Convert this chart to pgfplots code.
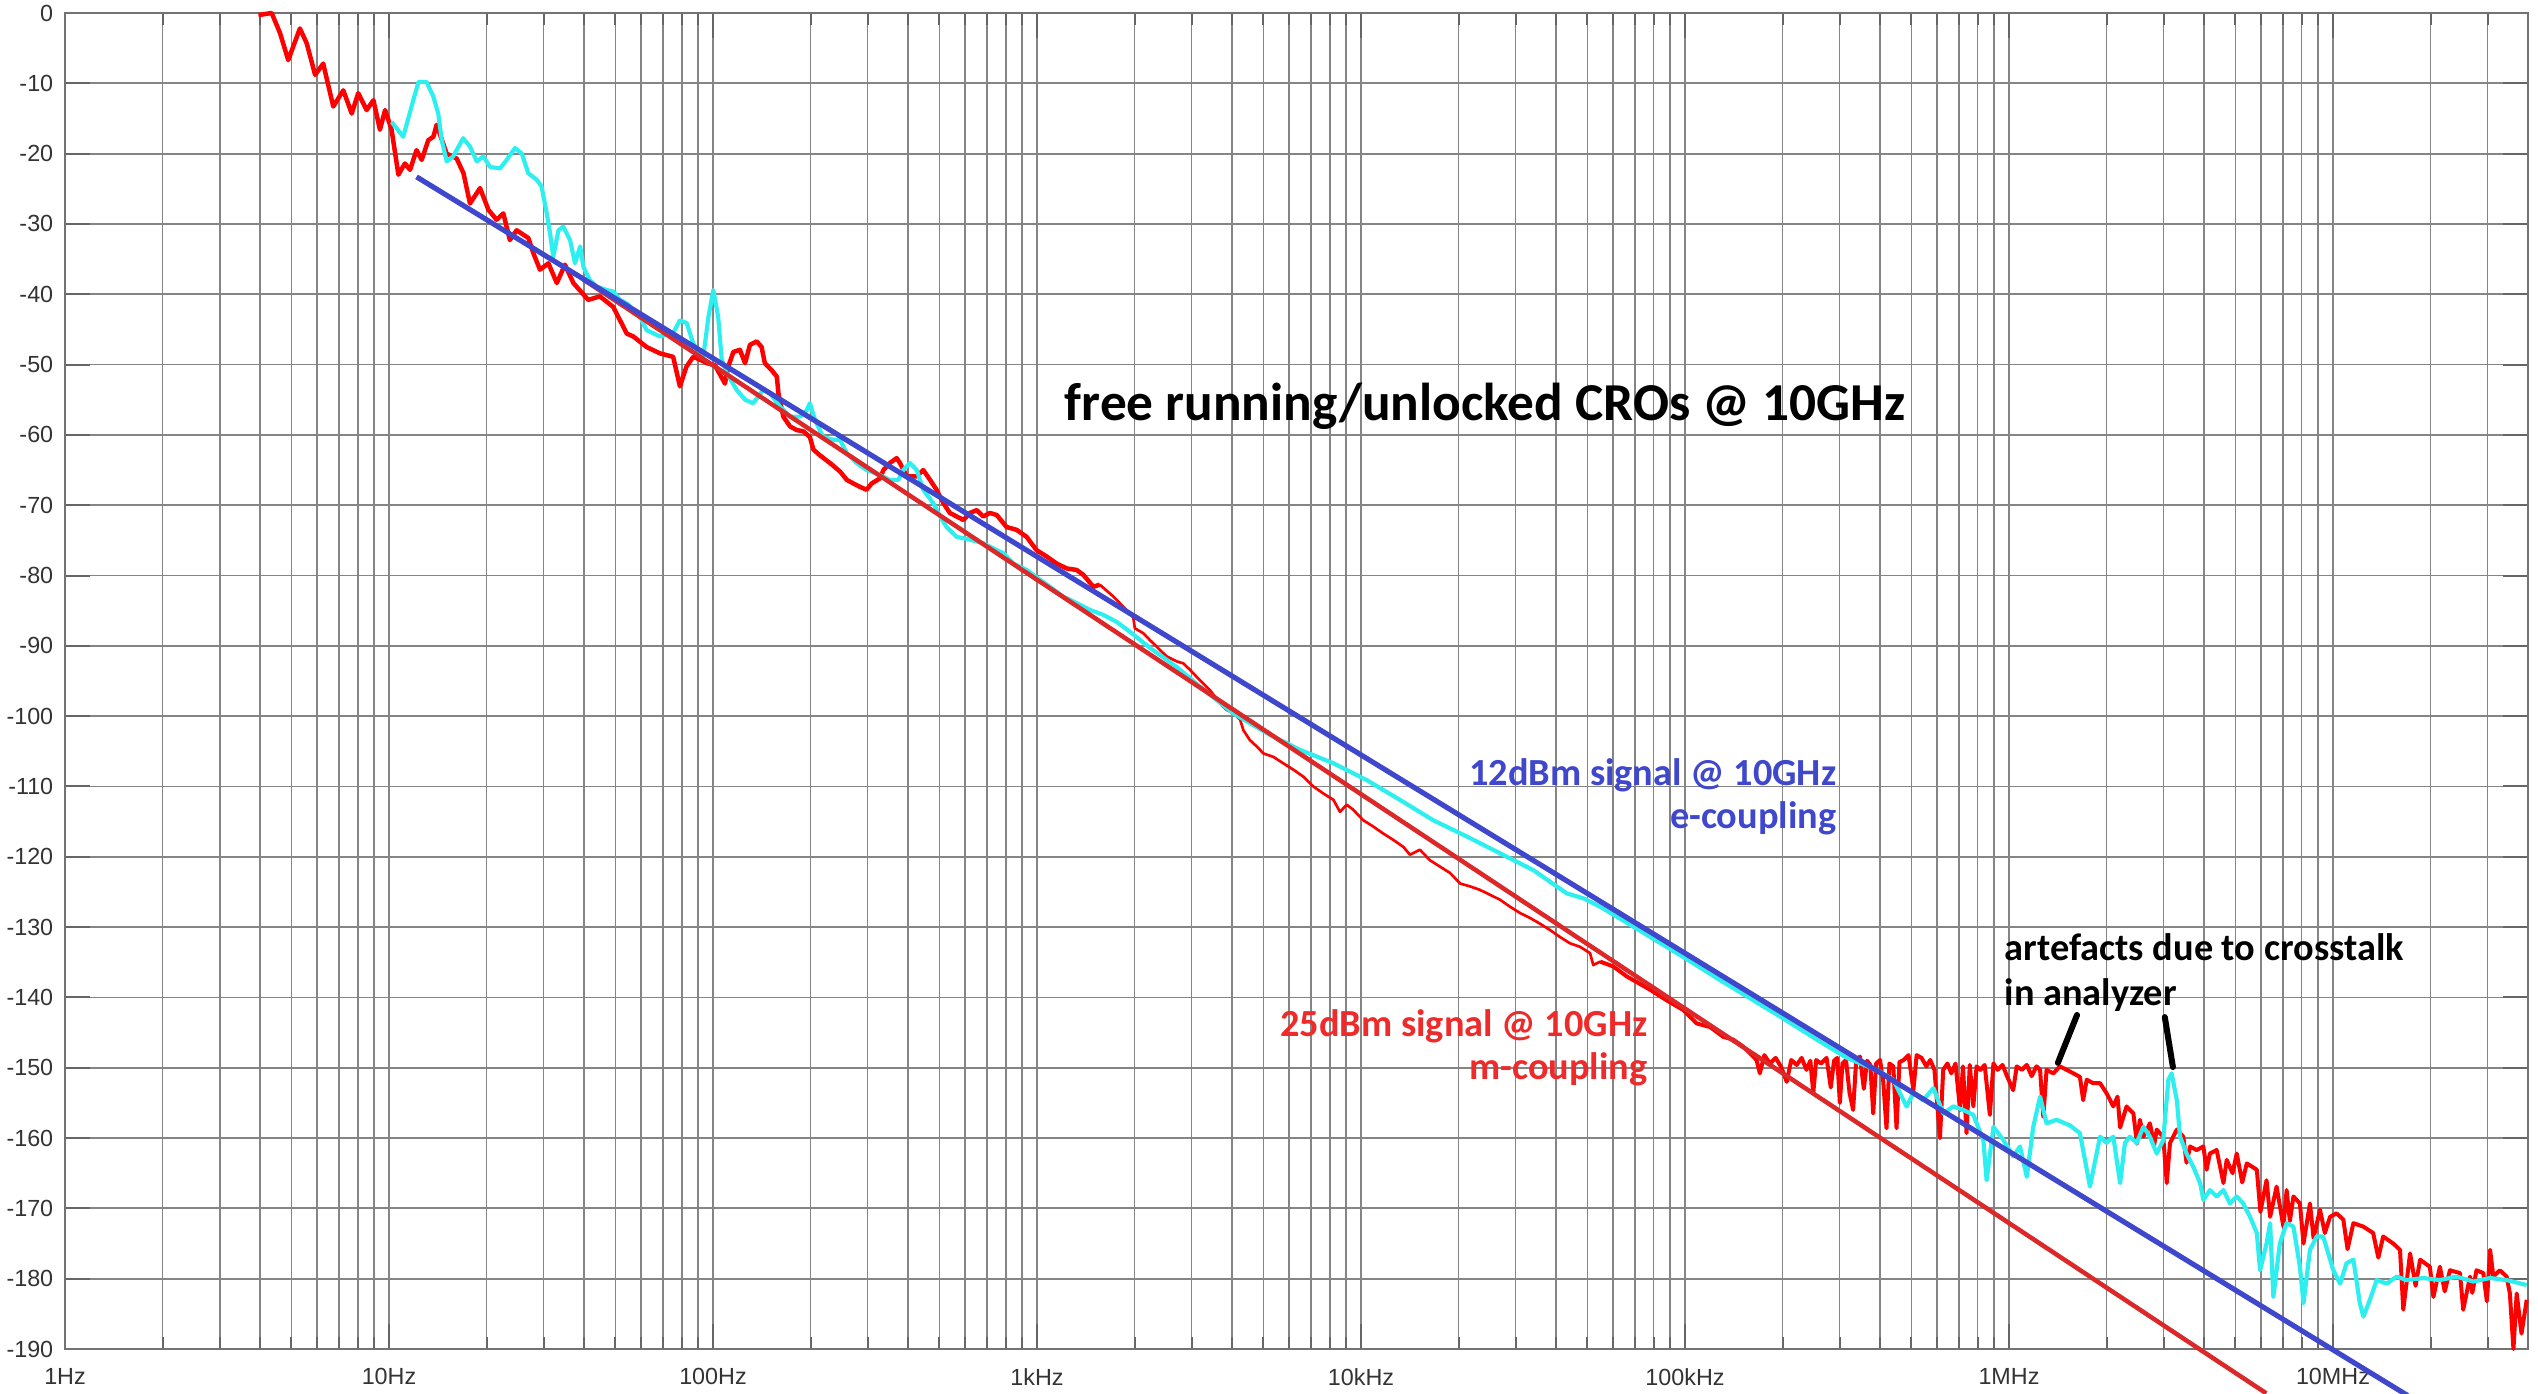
\documentclass[border=0pt]{standalone}
\usepackage{fontspec}
\setmainfont{Liberation Sans}
\newfontfamily\calibri{Carlito}
\usepackage{pgfplots}
\usepackage{pgfplotstable}
\pgfplotsset{compat=1.18}

\definecolor{noisered}{HTML}{FF0000}
\definecolor{noisecyan}{HTML}{2EEFEF}
\definecolor{fitblue}{HTML}{3F48CC}
\definecolor{fitred}{HTML}{DC2828}
\definecolor{txtred}{HTML}{EE2A2A}

% x column = log10(frequency in Hz), y = dB
\pgfplotstableread{
lf db
0.597 -0.3
0.638 0
0.664 -2.9
0.689 -6.7
0.725 -2.2
0.746 -4.3
0.772 -8.8
0.797 -7.2
0.828 -13.3
0.859 -11.0
0.885 -14.3
0.905 -11.4
0.931 -13.8
0.952 -12.4
0.972 -16.6
0.988 -13.8
1.008 -16.6
1.029 -23.0
1.049 -21.4
1.065 -22.3
1.085 -19.5
1.101 -20.9
1.121 -18.1
1.137 -17.6
1.147 -15.9
1.178 -20.0
1.209 -20.7
1.230 -22.8
1.250 -27.1
1.281 -24.9
1.307 -28.0
1.332 -29.4
1.353 -28.5
1.373 -32.3
1.394 -30.9
1.430 -32.0
1.446 -34.2
1.466 -36.5
1.492 -35.6
1.518 -38.4
1.543 -35.8
1.569 -38.4
1.615 -40.8
1.651 -40.3
1.692 -41.8
1.734 -45.6
1.754 -46.0
1.795 -47.5
1.836 -48.4
1.877 -48.9
1.898 -53.1
1.918 -50.3
1.939 -48.9
1.960 -49.3
1.981 -49.8
2.006 -50.1
2.037 -52.7
2.047 -50.3
2.063 -48.2
2.083 -47.9
2.099 -49.8
2.114 -47.2
2.135 -46.7
2.150 -47.5
2.160 -49.8
2.181 -50.8
2.197 -51.7
2.202 -54.1
2.217 -57.4
2.238 -58.8
2.258 -59.3
2.279 -59.5
2.299 -60.3
2.310 -62.1
2.330 -62.9
2.361 -64.0
2.392 -65.2
2.413 -66.4
2.433 -66.9
2.454 -67.4
2.474 -67.8
2.490 -66.9
2.515 -66.2
2.526 -65.0
2.546 -64.0
2.567 -63.3
2.577 -64.0
2.598 -65.9
2.629 -65.9
2.649 -65.0
2.670 -66.4
2.690 -67.8
2.711 -69.7
2.731 -71.1
2.752 -71.6
2.773 -72.1
2.793 -71.1
2.814 -70.7
2.834 -71.6
2.855 -71.1
2.876 -71.4
2.906 -73.1
2.937 -73.5
2.968 -74.5
2.999 -76.4
3.030 -77.3
3.061 -78.3
3.092 -79.0
3.122 -79.2
3.143 -79.9
3.174 -81.6
3.194 -81.3
}\redlow

\pgfplotstableread{
lf db
3.194 -81.3
3.236 -83.0
3.297 -85.9
3.302 -87.5
3.328 -88.2
3.349 -89.2
3.369 -90.1
3.400 -91.5
3.431 -92.2
3.452 -92.5
3.472 -93.4
3.503 -94.9
3.534 -96.3
3.565 -98.2
3.585 -99.1
3.606 -99.6
3.627 -100.5
3.637 -102.0
3.657 -103.4
3.678 -104.3
3.699 -105.3
3.730 -105.8
3.760 -106.7
3.791 -107.6
3.822 -108.6
3.853 -110.0
3.884 -111.0
3.915 -111.9
3.935 -113.6
3.956 -112.6
3.976 -113.3
4.007 -114.8
4.038 -115.7
4.069 -116.7
4.100 -117.6
4.131 -118.6
4.151 -119.7
4.182 -119.0
4.213 -120.5
4.244 -121.4
4.275 -122.3
4.306 -123.8
4.336 -124.2
4.367 -124.7
4.398 -125.4
4.429 -126.1
4.460 -127.1
4.491 -128.0
4.522 -128.7
4.552 -129.5
4.583 -130.4
4.614 -131.4
4.645 -132.3
4.676 -132.8
4.707 -133.7
4.717 -135.4
4.738 -134.9
}\redmid

\pgfplotstableread{
lf db
4.738 -134.9
4.779 -135.6
4.820 -137.0
4.892 -138.9
4.943 -140.4
4.995 -141.8
5.036 -143.7
5.077 -144.2
5.118 -145.6
5.149 -146.0
5.180 -147.0
5.221 -148.9
5.231 -150.8
5.245 -148.2
5.262 -149.4
5.280 -148.6
5.297 -149.9
5.314 -152.0
5.328 -148.9
5.345 -149.6
5.360 -148.6
5.375 -150.3
5.387 -149.0
5.396 -153.6
5.405 -148.9
5.420 -149.4
5.437 -148.6
5.450 -152.8
5.460 -149.0
5.470 -148.6
5.478 -155.0
5.486 -149.4
5.497 -148.9
5.508 -153.6
5.519 -156.0
5.528 -149.2
5.540 -148.4
5.552 -153.0
5.562 -149.0
5.572 -149.6
5.581 -156.5
5.590 -149.4
5.602 -148.9
5.612 -152.0
5.622 -158.6
5.631 -149.4
5.643 -149.8
5.653 -158.6
5.662 -149.2
5.675 -148.9
5.690 -148.2
5.705 -153.2
5.715 -148.2
5.730 -148.6
5.745 -149.8
5.757 -148.9
5.770 -150.3
5.787 -160.0
5.797 -150.3
5.810 -149.4
5.822 -150.8
5.835 -149.4
5.849 -156.0
5.858 -149.8
5.869 -159.3
5.879 -149.6
5.890 -155.5
5.900 -149.8
5.912 -150.3
5.925 -149.6
5.941 -156.7
5.952 -149.4
5.965 -150.3
5.980 -149.6
5.995 -151.3
6.013 -153.2
6.024 -149.8
6.040 -150.3
6.055 -149.6
6.070 -151.2
6.085 -149.8
6.096 -150.3
6.106 -157.0
6.116 -150.3
6.137 -150.8
6.157 -149.8
6.178 -150.3
6.199 -150.8
6.219 -151.3
6.229 -154.6
6.240 -151.7
6.260 -152.2
6.281 -152.2
6.301 -153.6
6.322 -155.5
6.335 -154.1
6.343 -158.5
6.353 -157.0
6.363 -155.5
6.384 -156.5
6.395 -160.8
6.404 -157.4
6.415 -159.8
6.435 -157.9
6.448 -161.0
6.456 -158.8
6.476 -159.8
6.487 -166.4
6.497 -160.7
6.518 -158.8
6.538 -159.8
6.548 -163.5
6.559 -161.2
6.579 -161.7
6.600 -161.2
6.610 -164.5
6.620 -162.2
6.641 -161.7
6.662 -166.4
6.672 -163.1
6.690 -165.0
6.703 -162.2
6.720 -166.3
6.734 -163.6
6.765 -164.5
6.776 -170.5
6.795 -166.0
6.806 -171.2
6.826 -166.9
6.847 -172.6
6.857 -167.4
6.867 -171.8
6.878 -168.3
6.898 -169.3
6.909 -175.0
6.929 -169.3
6.940 -174.2
6.960 -170.2
6.975 -173.5
6.991 -171.2
7.011 -170.7
7.032 -171.6
7.045 -175.8
7.063 -172.1
7.094 -172.6
7.124 -173.5
7.140 -177.0
7.155 -174.0
7.186 -175.0
7.207 -175.9
7.217 -184.4
7.238 -176.4
7.255 -181.0
7.269 -177.3
7.299 -178.3
7.310 -182.6
7.330 -178.3
7.345 -181.8
7.361 -178.8
7.392 -179.2
7.402 -184.4
7.423 -179.7
7.430 -182.0
7.443 -178.8
7.464 -179.2
7.475 -183.2
7.485 -175.9
7.495 -179.7
7.515 -178.8
7.536 -179.7
7.546 -182.1
7.557 -190
7.567 -182.1
7.582 -187.8
7.598 -183.0
}\redhigh

\pgfplotstableread{
lf db
1.008 -15.5
1.044 -17.6
1.075 -12.4
1.091 -9.8
1.116 -9.8
1.137 -11.9
1.152 -14.3
1.163 -18.1
1.178 -21.1
1.198 -20.4
1.229 -17.8
1.250 -19.0
1.271 -21.1
1.291 -20.4
1.312 -21.9
1.343 -22.1
1.363 -20.9
1.389 -19.2
1.410 -20.0
1.430 -22.8
1.456 -23.7
1.471 -24.7
1.487 -28.5
1.497 -31.3
1.507 -34.7
1.523 -30.9
1.538 -30.4
1.559 -32.3
1.574 -35.6
1.590 -33.2
1.600 -36.1
1.620 -38.0
1.641 -38.9
1.672 -39.4
1.692 -39.6
1.713 -40.8
1.734 -41.3
1.754 -42.2
1.775 -43.2
1.795 -45.1
1.836 -46.0
1.877 -45.5
1.898 -43.7
1.919 -44.1
1.939 -47.0
1.960 -48.4
1.970 -48.9
1.986 -43.2
2.001 -39.4
2.016 -43.2
2.027 -49.3
2.042 -51.2
2.073 -53.6
2.099 -55.0
2.124 -55.5
2.155 -53.6
2.176 -54.1
2.207 -56.0
2.238 -57.4
2.269 -57.4
2.289 -56.5
2.299 -55.5
2.315 -57.9
2.340 -60.3
2.371 -60.7
2.392 -60.7
2.413 -62.6
2.443 -64.0
2.474 -65.0
2.505 -65.5
2.546 -66.4
2.572 -66.4
2.587 -65.0
2.608 -64.0
2.629 -65.0
2.649 -67.8
2.680 -69.7
2.701 -71.6
2.721 -73.1
2.752 -74.5
2.793 -74.9
2.834 -75.4
2.876 -76.4
2.896 -76.8
2.927 -78.3
2.968 -79.2
3.009 -80.6
3.040 -81.6
3.081 -83.0
3.122 -83.9
3.164 -84.9
3.205 -85.6
3.246 -86.6
3.287 -88.0
3.349 -90.3
3.431 -93.0
3.503 -95.8
3.606 -99.6
3.709 -102.4
3.812 -104.8
3.915 -106.7
4.018 -109.1
4.120 -111.9
4.223 -114.8
4.326 -117.1
4.429 -119.5
4.532 -121.9
4.635 -125.2
4.686 -125.9
4.738 -127.1
4.800 -128.8
4.900 -131.6
5.000 -134.4
5.100 -137.3
5.200 -140.1
5.300 -142.9
5.400 -145.8
5.500 -148.6
5.600 -150.5
5.643 -151.7
5.684 -155.5
5.705 -153.6
5.735 -154.6
5.767 -152.9
5.797 -156.5
5.828 -155.5
5.859 -156.0
5.890 -156.7
5.921 -160.3
5.931 -166.0
5.952 -158.4
5.983 -160.3
6.013 -162.6
6.034 -161.2
6.055 -165.5
6.075 -158.4
6.096 -154.1
6.116 -157.9
6.147 -157.4
6.188 -158.2
6.219 -159.3
6.250 -166.9
6.281 -159.8
6.301 -160.7
6.322 -159.8
6.343 -166.4
6.358 -160.7
6.373 -159.8
6.394 -160.7
6.415 -158.4
6.435 -159.8
6.456 -162.2
6.476 -160.3
6.492 -151.7
6.502 -150.8
6.518 -154.6
6.528 -159.8
6.548 -162.2
6.569 -164.1
6.590 -166.4
6.600 -168.8
6.620 -167.4
6.641 -168.3
6.662 -167.4
6.682 -169.3
6.703 -168.3
6.723 -169.3
6.744 -171.2
6.765 -173.5
6.775 -178.8
6.795 -175.0
6.806 -172.1
6.816 -182.6
6.836 -175.0
6.857 -172.1
6.878 -172.6
6.898 -178.3
6.909 -183.5
6.929 -175.9
6.950 -174.0
6.970 -174.0
7.001 -178.8
7.022 -180.7
7.042 -177.8
7.063 -177.3
7.083 -183.5
7.094 -185.4
7.114 -183.0
7.135 -180.2
7.166 -180.7
7.197 -179.7
7.227 -180.2
7.279 -179.9
7.330 -180.2
7.381 -179.7
7.433 -180.4
7.485 -179.9
7.536 -180.2
7.598 -180.9
}\cyanline

\begin{document}
\begin{tikzpicture}
\begin{axis}[
  width=738.9pt, height=400.8pt, scale only axis,
  xmin=0, xmax=7.60206, ymin=-190, ymax=0,
  clip=false,
  xtick={0,1,2,3,4,5,6,7},
  xticklabels={1Hz,10Hz,100Hz,1kHz,10kHz,100kHz,1MHz,10MHz},
  minor xtick={0.30103,0.47712,0.60206,0.69897,0.77815,0.84510,0.90309,0.95424,
    1.30103,1.47712,1.60206,1.69897,1.77815,1.84510,1.90309,1.95424,
    2.30103,2.47712,2.60206,2.69897,2.77815,2.84510,2.90309,2.95424,
    3.30103,3.47712,3.60206,3.69897,3.77815,3.84510,3.90309,3.95424,
    4.30103,4.47712,4.60206,4.69897,4.77815,4.84510,4.90309,4.95424,
    5.30103,5.47712,5.60206,5.69897,5.77815,5.84510,5.90309,5.95424,
    6.30103,6.47712,6.60206,6.69897,6.77815,6.84510,6.90309,6.95424,
    7.30103,7.47712},
  ytick={-190,-180,-170,-160,-150,-140,-130,-120,-110,-100,-90,-80,-70,-60,-50,-40,-30,-20,-10,0},
  yticklabels={-190,-180,-170,-160,-150,-140,-130,-120,-110,-100,-90,-80,-70,-60,-50,-40,-30,-20,-10,0},
  grid=both,
  grid style={line width=0.55pt, draw=black!48},
  minor grid style={line width=0.55pt, draw=black!48},
  tick align=inside, xtick pos=both, ytick pos=both,
  xticklabel pos=bottom, yticklabel pos=left,
  major tick length=7.5pt, minor tick length=3.6pt,
  tick style={line width=0.6pt, draw=black!60},
  axis line style={line width=0.6pt, draw=black!55},
  ticklabel style={font=\fontsize{7}{8}\selectfont, text=black!80},
  xticklabel style={yshift=-2.2pt},
]
\addplot[noisered, line width=1.35pt, line join=round] table[x=lf, y=db] {\redlow};
\addplot[noisered, line width=0.8pt, line join=round] table[x=lf, y=db] {\redmid};
\addplot[noisered, line width=1.2pt, line join=round] table[x=lf, y=db] {\redhigh};
\addplot[noisecyan, line width=1.25pt, line join=round] table[x=lf, y=db] {\cyanline};
\addplot[fitred, line width=1.35pt] coordinates {(1.6,-37.9) (6.794,-196.3)};
\addplot[fitblue, line width=1.55pt] coordinates {(1.085,-23.3) (7.230,-196.6)};

\node[font=\calibri\bfseries\fontsize{16}{19}\selectfont, anchor=base, inner sep=0pt]
  at (axis cs:4.383,-58.0) {free running/unlocked CROs @ 10GHz};
\node[font=\calibri\bfseries\fontsize{11.5}{14}\selectfont, text=fitblue, anchor=base east, inner sep=0pt]
  at (axis cs:5.469,-109.9) {12dBm signal @ 10GHz};
\node[font=\calibri\bfseries\fontsize{11.5}{14}\selectfont, text=fitblue, anchor=base east, inner sep=0pt]
  at (axis cs:5.469,-116.0) {e-coupling};
\node[font=\calibri\bfseries\fontsize{11.5}{14}\selectfont, text=txtred, anchor=base east, inner sep=0pt]
  at (axis cs:4.886,-145.6) {25dBm signal @ 10GHz};
\node[font=\calibri\bfseries\fontsize{11.5}{14}\selectfont, text=txtred, anchor=base east, inner sep=0pt]
  at (axis cs:4.886,-151.7) {m-coupling};
\node[font=\calibri\bfseries\fontsize{11.5}{14}\selectfont, anchor=base west, inner sep=0pt]
  at (axis cs:5.985,-134.7) {artefacts due to crosstalk};
\node[font=\calibri\bfseries\fontsize{11.5}{14}\selectfont, anchor=base west, inner sep=0pt]
  at (axis cs:5.985,-141.1) {in analyzer};
\draw[black, line width=1.8pt, line cap=round] (axis cs:6.210,-142.5) -- (axis cs:6.151,-149.3);
\draw[black, line width=1.8pt, line cap=round] (axis cs:6.481,-142.8) -- (axis cs:6.506,-149.9);
\end{axis}
\pgfresetboundingbox
\path ([xshift=-19.5pt,yshift=-13.2pt]current axis.south west) rectangle ([xshift=3pt,yshift=3.9pt]current axis.north east);
\end{tikzpicture}
\end{document}
